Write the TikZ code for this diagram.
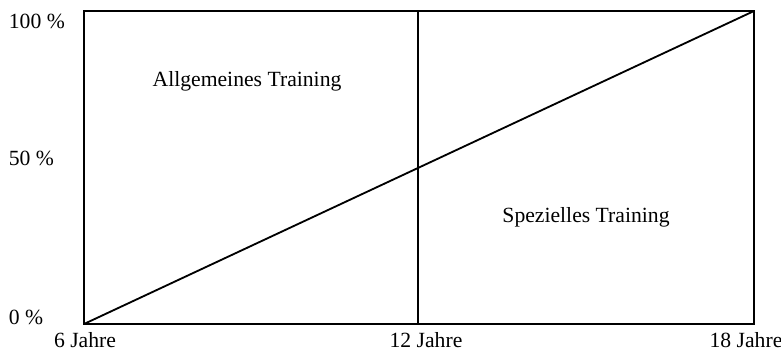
\documentclass[tikz,border=0pt]{standalone}
\usepackage{fontspec}
\setmainfont{Liberation Serif}
\begin{document}
\begin{tikzpicture}[x=0.6pt, y=-0.6pt, line width=1.1pt,
  lbl/.style={font=\fontsize{13}{15}\selectfont, inner sep=0pt, anchor=base}]
\useasboundingbox (0,0) rectangle (781,353);
% Frame
\draw (84,11) rectangle (754,324);
\draw (418,11) -- (418,324);
\draw (84,324) -- (754,11);

% Left labels
\node[lbl, anchor=base west] (p100) at (8,29) {100 \%};
\node[lbl, anchor=base west] (p50) at (8,165) {50 \%};
\node[lbl, anchor=base west] (p0) at (8,324) {0 \%};

% Bottom labels
\node[lbl] (a6) at (85,347) {6 Jahre};
\node[lbl] (a12) at (426,347) {12 Jahre};
\node[lbl] (a18) at (746,347) {18 Jahre};

% Areas
\node[lbl] (allg) at (247,87) {Allgemeines Training};
\node[lbl] (spez) at (586,222) {Spezielles Training};

\end{tikzpicture}
\end{document}
